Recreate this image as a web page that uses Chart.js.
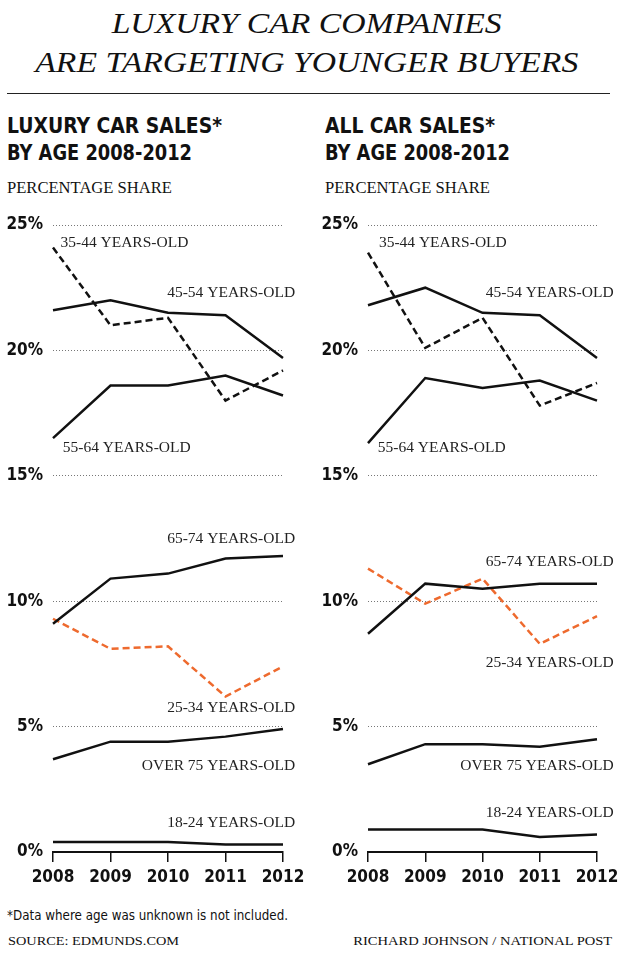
<!DOCTYPE html>
<html>
<head>
<meta charset="utf-8">
<script src="https://cdn.jsdelivr.net/npm/chart.js@4.4.1/dist/chart.umd.min.js"></script>
<style>
  html, body { margin:0; padding:0; background:#fff; }
  body { width:620px; height:955px; position:relative; overflow:hidden; }
  .t { position:absolute; white-space:nowrap; line-height:1; color:#111; }
  .rule { position:absolute; left:7px; top:92.5px; width:603px; height:1.5px; background:#222; }
  .cw { position:absolute; top:200px; width:310px; height:700px; }
</style>
</head>
<body>
<div class="rule"></div>
<div class="cw" style="left:0"><canvas id="c1" width="310" height="700"></canvas></div>
<div class="cw" style="left:310px"><canvas id="c2" width="310" height="700"></canvas></div>
<script>
// ---------- DATA ----------
const years = ['2008', '2009', '2010', '2011', '2012'];
const yTickValues = [0, 5, 10, 15, 20, 25];

// Luxury car sales, % share by age
const lux18to24 = [0.4, 0.4, 0.4, 0.3, 0.3];
const lux25to34 = [9.3, 8.1, 8.2, 6.2, 7.4];
const lux35to44 = [24.1, 21.0, 21.3, 18.0, 19.2];
const lux45to54 = [21.6, 22.0, 21.5, 21.4, 19.7];
const lux55to64 = [16.5, 18.6, 18.6, 19.0, 18.2];
const lux65to74 = [9.1, 10.9, 11.1, 11.7, 11.8];
const luxOver75 = [3.7, 4.4, 4.4, 4.6, 4.9];

// All car sales, % share by age
const all18to24 = [0.9, 0.9, 0.9, 0.6, 0.7];
const all25to34 = [11.3, 9.9, 10.9, 8.3, 9.4];
const all35to44 = [23.9, 20.1, 21.3, 17.8, 18.7];
const all45to54 = [21.8, 22.5, 21.5, 21.4, 19.7];
const all55to64 = [16.3, 18.9, 18.5, 18.8, 18.0];
const all65to74 = [8.7, 10.7, 10.5, 10.7, 10.7];
const allOver75 = [3.5, 4.3, 4.3, 4.2, 4.5];

const ageNames = {
  a18: '18-24 YEARS-OLD', a25: '25-34 YEARS-OLD', a35: '35-44 YEARS-OLD',
  a45: '45-54 YEARS-OLD', a55: '55-64 YEARS-OLD', a65: '65-74 YEARS-OLD', a75: 'OVER 75 YEARS-OLD'
};

// ---------- STATIC TEXT ----------
const COND = '"Liberation Sans Narrow", "DejaVu Sans Condensed", Roboto, sans-serif';
const SERIF = '"Liberation Serif", serif';
const texts = [
  {s:'LUXURY CAR COMPANIES', x:307, b:33.5, f:'italic 30px ' + SERIF, size:30, serif:true, w:390, al:'center'},
  {s:'ARE TARGETING YOUNGER BUYERS', x:307, b:71.7, f:'italic 30px ' + SERIF, size:30, serif:true, w:543, al:'center'},
  {s:'LUXURY CAR SALES*', x:7, b:133.3, f:'bold 21px ' + COND, size:21, w:215, al:'left'},
  {s:'BY AGE 2008-2012', x:7, b:161, f:'bold 21px ' + COND, size:21, w:185, al:'left'},
  {s:'ALL CAR SALES*', x:325, b:133.3, f:'bold 21px ' + COND, size:21, w:170, al:'left'},
  {s:'BY AGE 2008-2012', x:325, b:161, f:'bold 21px ' + COND, size:21, w:185, al:'left'},
  {s:'PERCENTAGE SHARE', x:7, b:193.3, f:'17px ' + SERIF, size:17, serif:true, w:165, al:'left'},
  {s:'PERCENTAGE SHARE', x:325, b:193.3, f:'17px ' + SERIF, size:17, serif:true, w:165, al:'left'},
  {s:'*Data where age was unknown is not included.', x:7, b:919.5, f:'500 14px ' + COND, size:14, w:281, al:'left'},
  {s:'SOURCE: EDMUNDS.COM', x:8, b:945, f:'13.5px ' + SERIF, size:13.5, serif:true, w:171, al:'left'},
  {s:'RICHARD JOHNSON / NATIONAL POST', x:612, b:945, f:'13.5px ' + SERIF, size:13.5, serif:true, w:259, al:'right'}
];
texts.forEach(o => {
  const el = document.createElement('div');
  el.className = 't';
  el.textContent = o.s;
  el.style.font = o.f;
  el.style.lineHeight = '1';
  const k = o.serif ? 0.8375 : 0.84;
  el.style.top = (o.b - k * o.size) + 'px';
  document.body.appendChild(el);
  const wNow = el.getBoundingClientRect().width;
  const sx = o.w / wNow;
  if (o.al === 'center') { el.style.left = (o.x - wNow / 2) + 'px'; el.style.transformOrigin = 'center'; }
  else if (o.al === 'right') { el.style.left = (o.x - wNow) + 'px'; el.style.transformOrigin = 'right'; }
  else { el.style.left = o.x + 'px'; el.style.transformOrigin = 'left'; }
  el.style.transform = 'scaleX(' + sx + ')';
});

// ---------- CHARTS ----------
const BLACK = '#111';
const ORANGE = '#ee6a2e';

function ds(data, color, dashed) {
  return {
    data, borderColor: color, borderWidth: 2.5, borderDash: dashed ? [7, 4] : [],
    pointRadius: 0, tension: 0, fill: false, borderJoinStyle: 'miter', borderCapStyle: 'butt', clip: false
  };
}

const seriesLabels = {
  type: 'plugin',
  id: 'seriesLabels',
  afterDatasetsDraw(chart, args, opts) {
    const ctx = chart.ctx, xs = chart.scales.x, ys = chart.scales.y;
    ctx.save();
    ctx.font = '15.5px "Liberation Serif", serif';
    ctx.fillStyle = '#222';
    ctx.textBaseline = 'middle';
    (opts.items || []).forEach(it => {
      ctx.textAlign = it.a;
      ctx.fillText(it.t, xs.getPixelForValue(it.x), ys.getPixelForValue(it.y));
    });
    ctx.restore();
  }
};

function makeChart(id, series, labelItems, leftWidth, rightPad) {
  const tickFont = { family: COND, weight: 'bold', size: 17 };
  return new Chart(document.getElementById(id), {
    type: 'line',
    data: { labels: years, datasets: series },
    plugins: [seriesLabels],
    options: {
      responsive: false, animation: false, maintainAspectRatio: false,
      layout: { padding: { top: 25, right: rightPad, left: 0, bottom: 0 } },
      plugins: {
        legend: { display: false }, tooltip: { enabled: false },
        seriesLabels: { items: labelItems }
      },
      scales: {
        x: {
          type: 'category', offset: false,
          grid: { offset: false, drawOnChartArea: false, drawTicks: true, tickLength: 10, color: BLACK, lineWidth: 1.5 },
          border: { display: true, color: BLACK, width: 2 },
          ticks: { font: tickFont, color: BLACK, padding: 5, maxRotation: 0, autoSkip: false },
          afterFit(s) { s.paddingLeft = 0; s.paddingRight = 0; s.height = 48; }
        },
        y: {
          min: 0, max: 25,
          afterBuildTicks(s) { s.ticks = yTickValues.map(v => ({ value: v })); },
          ticks: { font: tickFont, color: BLACK, padding: 10, callback: v => v + '%' },
          grid: { drawTicks: false, lineWidth: 1, color: c => (c.tick && c.tick.value === 0) ? 'rgba(0,0,0,0)' : '#777' },
          border: { display: false, dash: [1, 2] },
          afterFit(s) { s.width = leftWidth; s.paddingTop = 0; s.paddingBottom = 0; }
        }
      }
    }
  });
}

makeChart('c1', [
  ds(lux45to54, BLACK, false),
  ds(lux55to64, BLACK, false),
  ds(lux35to44, BLACK, true),
  ds(lux65to74, BLACK, false),
  ds(lux25to34, ORANGE, true),
  ds(luxOver75, BLACK, false),
  ds(lux18to24, BLACK, false)
], [
  { t: ageNames.a35, x: 0.13, y: 24.3, a: 'left' },
  { t: ageNames.a45, x: 4.21, y: 22.3, a: 'right' },
  { t: ageNames.a55, x: 0.17, y: 16.1, a: 'left' },
  { t: ageNames.a65, x: 4.21, y: 12.5, a: 'right' },
  { t: ageNames.a25, x: 4.21, y: 5.75, a: 'right' },
  { t: ageNames.a75, x: 4.21, y: 3.45, a: 'right' },
  { t: ageNames.a18, x: 4.21, y: 1.15, a: 'right' }
], 53, 27);

makeChart('c2', [
  ds(all45to54, BLACK, false),
  ds(all55to64, BLACK, false),
  ds(all35to44, BLACK, true),
  ds(all65to74, BLACK, false),
  ds(all25to34, ORANGE, true),
  ds(allOver75, BLACK, false),
  ds(all18to24, BLACK, false)
], [
  { t: ageNames.a35, x: 0.19, y: 24.3, a: 'left' },
  { t: ageNames.a45, x: 4.29, y: 22.3, a: 'right' },
  { t: ageNames.a55, x: 0.17, y: 16.1, a: 'left' },
  { t: ageNames.a65, x: 4.29, y: 11.55, a: 'right' },
  { t: ageNames.a25, x: 4.29, y: 7.55, a: 'right' },
  { t: ageNames.a75, x: 4.29, y: 3.45, a: 'right' },
  { t: ageNames.a18, x: 4.29, y: 1.55, a: 'right' }
], 58, 23);
</script>
</body>
</html>
